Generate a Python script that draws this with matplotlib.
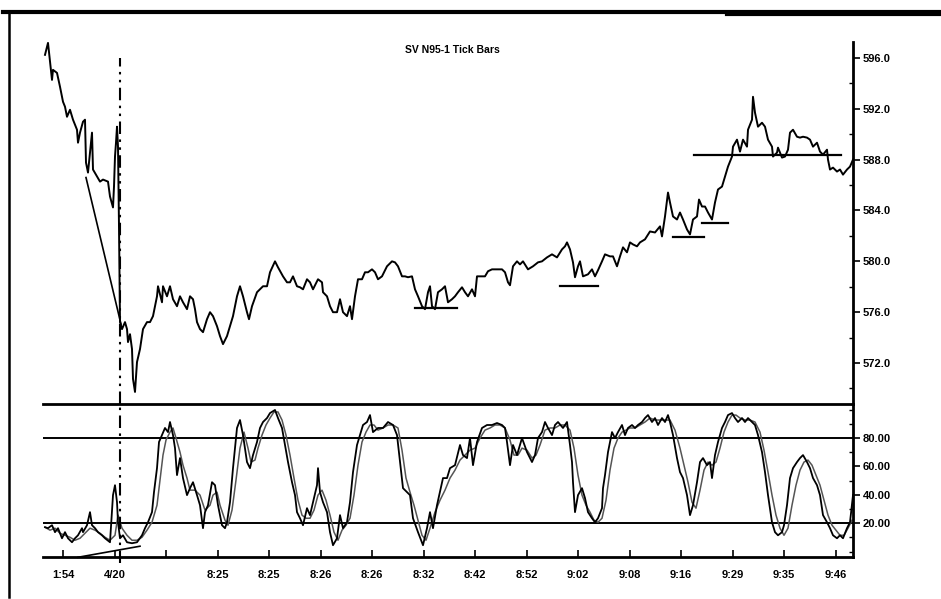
import matplotlib
matplotlib.use("Agg")
import matplotlib.pyplot as plt
from matplotlib.lines import Line2D
from matplotlib.ticker import MultipleLocator

plt.rcParams['font.family'] = ['Liberation Sans', 'DejaVu Sans']

# ---------------- data ----------------
title = "SV N95-1 Tick Bars"
x_tick_labels = ["1:54", "4/20", "", "8:25", "8:25", "8:26", "8:26", "8:32",
                 "8:42", "8:52", "9:02", "9:08", "9:16", "9:29", "9:35", "9:46"]
price_ticks = [572, 576, 580, 584, 588, 592, 596]
osc_ticks = [20, 40, 60, 80]
osc_levels = [80, 20]

price_bar = [0, 3, 7, 8, 12, 15, 17, 18, 20, 22, 25, 28, 32, 33, 35, 38, 40, 41, 43, 47,
             48, 52, 55, 58, 63, 65, 68, 69, 70, 71, 72, 73, 74, 75, 77, 80, 82, 83, 85, 87,
             88, 90, 92, 95, 98, 102, 105, 108, 112, 113, 117, 118, 122, 125, 128, 132, 135, 138, 142, 145,
             148, 150, 152, 155, 158, 162, 165, 168, 172, 175, 178, 182, 185, 188, 192, 195, 198, 202, 204, 207,
             212, 218, 222, 225, 230, 233, 238, 242, 245, 248, 252, 255, 258, 262, 265, 268, 273, 277, 278, 282,
             285, 288, 292, 295, 298, 302, 305, 307, 310, 313, 317, 320, 323, 327, 330, 333, 337, 342, 347, 350,
             353, 357, 360, 363, 367, 370, 373, 377, 380, 383, 385, 387, 390, 393, 397, 400, 403, 407, 410, 413,
             417, 420, 423, 427, 430, 432, 435, 440, 443, 447, 452, 457, 460, 463, 465, 468, 472, 475, 478, 483,
             488, 493, 497, 502, 507, 512, 517, 520, 522, 525, 528, 530, 533, 535, 538, 543, 547, 550, 553, 557,
             560, 565, 568, 572, 575, 578, 582, 585, 588, 592, 595, 600, 605, 610, 615, 617, 620, 623, 625, 628,
             632, 635, 638, 642, 645, 648, 652, 654, 657, 660, 663, 667, 670, 673, 677, 680, 683, 687, 688, 692,
             695, 698, 702, 703, 707, 708, 710, 713, 717, 720, 723, 727, 728, 732, 733, 737, 740, 743, 745, 748,
             752, 755, 758, 762, 765, 768, 772, 775, 778, 782, 783, 785, 788, 792, 795, 798, 802, 805, 808]
price = [596.24, 597.18, 594.27, 595.06, 594.82, 593.73, 592.94, 592.55, 592.16, 591.37, 591.92, 591.14, 590.35, 589.33, 590.12, 590.98, 591.14, 587.76, 586.98, 590.12,
         587.22, 586.67, 586.27, 586.43, 586.27, 585.10, 584.24, 585.88, 588.24, 589.33, 590.59, 589.02, 582.75, 575.22, 574.67, 575.22, 574.67, 573.65, 574.27, 573.10,
         570.75, 569.73, 572.08, 573.10, 574.67, 575.22, 575.22, 575.69, 577.25, 578.04, 576.78, 578.04, 577.25, 578.04, 577.02, 576.47, 577.25, 576.78, 576.24, 577.25,
         577.02, 576.24, 575.22, 574.67, 574.43, 575.45, 576.00, 575.69, 574.90, 574.12, 573.49, 574.12, 574.90, 575.69, 577.25, 578.04, 577.25, 576.00, 575.45, 576.47,
         577.57, 578.04, 578.04, 579.14, 580.00, 579.53, 578.82, 578.35, 578.35, 578.82, 578.04, 577.96, 577.80, 578.59, 578.35, 577.80, 578.59, 578.35, 577.57, 577.25,
         576.47, 576.00, 576.00, 577.02, 576.00, 575.69, 576.47, 575.45, 577.25, 578.59, 578.59, 579.14, 579.14, 579.37, 579.14, 578.59, 578.82, 579.61, 580.00, 579.92,
         579.61, 578.82, 578.82, 578.75, 578.82, 577.80, 577.25, 576.47, 576.24, 577.57, 578.04, 576.47, 576.24, 577.57, 577.80, 578.04, 576.78, 577.02, 577.25, 577.57,
         577.96, 577.57, 577.25, 577.80, 577.25, 578.82, 578.82, 578.82, 579.22, 579.37, 579.37, 579.37, 579.14, 578.35, 578.12, 579.61, 580.00, 579.76, 580.00, 579.37,
         579.61, 579.92, 580.00, 580.31, 580.55, 580.31, 580.94, 581.18, 581.49, 580.94, 579.92, 578.75, 579.61, 580.00, 578.82, 578.98, 579.37, 578.82, 579.30, 580.00,
         580.55, 580.39, 580.39, 579.61, 580.39, 581.10, 580.71, 581.49, 581.33, 581.18, 581.49, 581.73, 582.35, 582.27, 582.75, 581.96, 583.53, 585.41, 584.63, 583.53,
         583.29, 583.84, 583.29, 582.51, 582.12, 583.29, 583.53, 584.86, 584.31, 584.31, 583.84, 583.29, 584.63, 585.65, 585.88, 586.67, 587.45, 588.24, 589.02, 589.57,
         588.63, 589.57, 589.02, 590.35, 591.14, 592.94, 591.69, 590.59, 590.90, 590.59, 589.57, 589.02, 588.24, 588.55, 588.94, 588.16, 588.24, 588.78, 590.12, 590.35,
         589.80, 589.73, 589.80, 589.73, 589.57, 589.02, 589.33, 588.63, 588.39, 588.78, 588.00, 587.22, 587.37, 587.06, 587.22, 586.82, 587.22, 587.45, 588.00]

k_bar = [0, 3, 7, 10, 13, 17, 20, 23, 27, 30, 33, 37, 38, 42, 45, 47, 50, 53, 57, 60,
         65, 68, 70, 72, 73, 75, 78, 82, 87, 92, 97, 100, 103, 107, 109, 112, 114, 117, 120, 123,
         125, 128, 130, 132, 135, 138, 142, 145, 148, 152, 155, 158, 160, 163, 167, 170, 173, 177, 180, 182,
         185, 188, 192, 195, 198, 202, 205, 208, 212, 215, 218, 222, 225, 230, 233, 237, 240, 243, 247, 250,
         252, 255, 258, 262, 265, 268, 272, 273, 275, 278, 282, 285, 288, 292, 295, 298, 302, 305, 308, 312,
         315, 318, 322, 325, 328, 333, 338, 343, 348, 352, 355, 358, 365, 368, 373, 378, 382, 385, 388, 392,
         398, 402, 405, 410, 415, 418, 422, 425, 428, 432, 437, 442, 447, 452, 457, 460, 462, 465, 468, 472,
         477, 482, 487, 490, 493, 497, 500, 503, 507, 510, 513, 518, 522, 525, 527, 528, 530, 533, 537, 540,
         543, 547, 550, 553, 557, 558, 560, 563, 567, 570, 573, 577, 580, 583, 587, 590, 593, 597, 600, 603,
         607, 610, 613, 617, 620, 623, 625, 628, 632, 635, 638, 642, 645, 648, 652, 655, 658, 662, 665, 667,
         670, 673, 677, 680, 683, 687, 690, 693, 697, 700, 703, 707, 710, 713, 717, 720, 723, 727, 730, 733,
         737, 739, 742, 745, 748, 752, 755, 758, 762, 765, 768, 772, 775, 778, 782, 785, 788, 792, 795, 798,
         802, 805, 808]
k_val = [17.2, 16.5, 18.6, 13.7, 16.5, 9.4, 13.7, 9.4, 6.6, 9.4, 11.5, 16.5, 13.7, 18.6, 27.8, 18.6, 16.5, 13.7, 11.5, 9.4,
         6.6, 39.8, 46.8, 34.8, 20.7, 9.4, 11.5, 6.6, 5.9, 6.6, 11.5, 16.5, 20.7, 27.8, 41.9, 58.8, 77.2, 82.1, 87.1, 84.2,
         91.3, 82.1, 72.9, 53.9, 65.9, 51.8, 39.8, 44.7, 48.9, 39.8, 32.7, 16.5, 27.8, 32.7, 48.9, 46.8, 32.7, 18.6, 16.5, 20.7,
         34.8, 58.8, 87.1, 92.7, 82.1, 63.1, 58.8, 68.0, 77.2, 87.1, 91.3, 94.1, 97.6, 99.8, 94.1, 87.1, 75.1, 63.1, 48.9, 39.8,
         27.8, 23.5, 18.6, 30.6, 25.7, 34.8, 46.8, 58.8, 41.9, 34.8, 27.8, 13.7, 4.5, 9.4, 25.7, 16.5, 20.7, 34.8, 56.0, 75.1,
         82.1, 89.2, 91.3, 96.2, 84.2, 87.1, 87.1, 91.3, 89.2, 82.1, 63.1, 44.7, 39.8, 23.5, 13.7, 4.5, 16.5, 27.8, 16.5, 32.7,
         51.8, 51.8, 58.8, 60.9, 75.1, 68.0, 65.9, 80.0, 60.9, 77.2, 87.1, 89.2, 89.2, 90.6, 89.2, 87.1, 77.2, 60.9, 75.1, 68.0,
         80.0, 70.1, 63.1, 68.0, 80.0, 84.2, 91.3, 87.1, 82.1, 89.2, 91.3, 87.1, 91.3, 75.1, 63.1, 48.9, 27.8, 39.8, 44.7, 37.7,
         27.8, 23.5, 20.7, 23.5, 30.6, 44.7, 53.9, 70.1, 84.2, 80.0, 84.2, 89.2, 82.1, 87.1, 89.2, 87.1, 89.2, 91.3, 94.1, 96.2,
         91.3, 94.1, 89.2, 94.1, 91.3, 96.2, 91.3, 82.1, 65.9, 56.0, 51.8, 39.8, 25.7, 32.7, 48.9, 63.1, 65.9, 60.9, 63.1, 51.8,
         68.0, 77.2, 87.1, 91.3, 96.2, 97.6, 94.1, 91.3, 94.1, 91.3, 94.1, 91.3, 89.2, 82.1, 70.1, 56.0, 39.8, 20.7, 13.7, 11.5,
         13.7, 18.6, 32.7, 51.8, 58.8, 63.1, 65.9, 68.0, 63.1, 58.8, 51.8, 46.8, 39.8, 25.7, 20.7, 16.5, 11.5, 9.4, 11.5, 9.4,
         16.5, 20.7, 39.8]

d_bar = [0, 5, 10, 15, 20, 25, 30, 35, 40, 45, 50, 55, 60, 65, 70, 73, 77, 82, 87, 92,
         97, 102, 107, 112, 115, 118, 121, 125, 128, 131, 135, 138, 142, 145, 150, 155, 160, 165, 168, 172,
         175, 180, 183, 187, 191, 195, 199, 203, 206, 210, 213, 217, 221, 225, 229, 233, 237, 241, 245, 249,
         253, 257, 261, 265, 269, 273, 277, 281, 285, 289, 293, 297, 301, 305, 309, 313, 317, 321, 325, 329,
         333, 338, 343, 348, 353, 357, 361, 365, 369, 373, 377, 381, 385, 390, 395, 400, 405, 410, 415, 420,
         425, 430, 435, 440, 445, 450, 455, 460, 465, 469, 473, 477, 482, 487, 491, 495, 500, 505, 510, 515,
         520, 525, 529, 533, 537, 541, 545, 549, 553, 557, 561, 565, 569, 573, 577, 581, 585, 590, 595, 600,
         605, 610, 615, 620, 625, 630, 635, 639, 643, 647, 651, 655, 659, 663, 667, 671, 675, 679, 683, 687,
         691, 695, 700, 705, 710, 715, 719, 723, 727, 731, 735, 739, 743, 747, 751, 755, 759, 763, 767, 771,
         775, 779, 783, 787, 791, 795, 799, 803, 807]
d_val = [17.2, 15.1, 16.5, 12.9, 11.5, 10.1, 8.0, 9.4, 12.9, 16.5, 15.1, 12.9, 10.1, 8.0, 11.5, 25.7, 16.5, 11.5, 8.0, 8.0,
         10.1, 15.1, 20.7, 32.7, 50.4, 68.0, 78.6, 84.2, 87.1, 80.0, 70.1, 60.9, 51.8, 43.3, 43.3, 39.8, 29.2, 32.7, 39.8, 41.9,
         32.7, 22.1, 18.6, 29.2, 50.4, 72.9, 84.2, 72.9, 63.1, 64.5, 72.9, 82.1, 89.2, 94.1, 98.4, 98.4, 92.7, 82.1, 68.0, 51.8,
         36.2, 25.7, 23.5, 23.5, 29.2, 39.8, 43.3, 36.2, 25.7, 13.7, 8.0, 15.1, 18.6, 23.5, 39.8, 60.9, 77.2, 84.2, 89.2, 89.2,
         85.6, 87.1, 89.2, 89.2, 87.1, 71.5, 51.8, 41.9, 32.7, 22.1, 11.5, 8.0, 16.5, 27.8, 36.2, 43.3, 51.8, 57.4, 64.5, 68.0,
         71.5, 72.9, 80.0, 85.6, 87.1, 89.2, 89.2, 87.1, 78.6, 68.0, 68.0, 72.9, 71.5, 65.9, 68.0, 75.1, 85.6, 87.1, 87.1, 89.2,
         89.2, 85.6, 72.9, 53.9, 39.8, 32.7, 27.8, 22.1, 20.7, 23.5, 36.2, 57.4, 72.9, 80.0, 84.2, 85.6, 87.1, 87.1, 89.2, 91.3,
         94.1, 92.7, 92.7, 92.7, 92.7, 85.6, 72.9, 60.9, 48.9, 34.8, 30.6, 43.3, 57.4, 63.1, 60.9, 63.1, 72.9, 84.2, 91.3, 96.2,
         96.2, 94.1, 92.7, 92.7, 91.3, 84.2, 71.5, 56.0, 39.8, 25.7, 16.5, 11.5, 16.5, 32.7, 46.8, 57.4, 63.1, 64.5, 60.9, 53.9,
         46.8, 36.2, 25.7, 18.6, 15.1, 11.5, 11.5, 16.5, 22.1]

# horizontal support / resistance marks on the price panel: (price, start bar, end bar)
support_price = [576.31, 578.04, 581.88, 582.98, 588.39]
support_start = [370, 515, 628, 657, 649]
support_end = [412, 553, 659, 683, 796]
# drawn trend lines
price_trend_bar = [41, 76]
price_trend_val = [586.59, 575.06]
osc_trend_bar = [33, 95]
osc_trend_val = [-4.0, 3.8]
session_break_bar = 75

# ---------------- layout ----------------
W, H = 941, 599
fig = plt.figure(figsize=(W / 100, H / 100), dpi=100)


def fx(px):
    return px / W


def fy(py):
    return 1 - py / H


left, right = fx(43), fx(853)
ax1 = fig.add_axes([left, fy(404), right - left, fy(42) - fy(404)])
ax2 = fig.add_axes([left, fy(557), right - left, fy(404) - fy(557)], sharex=ax1)

XMIN, XMAX = -2, 808
ax1.set_xlim(XMIN, XMAX)
ax1.set_ylim(568.78, 597.25)
ax2.set_ylim(-3.8, 104.0)

# price panel
ax1.plot(price_bar, price, color='black', lw=1.4, solid_joinstyle='round')
ax1.plot(price_trend_bar, price_trend_val, color='black', lw=1.2)
for p, s, e in zip(support_price, support_start, support_end):
    ax1.plot([s, e], [p, p], color='black', lw=1.6)

# oscillator panel
for lv in osc_levels:
    ax2.axhline(lv, color='black', lw=1.4)
ax2.plot(d_bar, d_val, color='#555555', lw=1.1)
ax2.plot(k_bar, k_val, color='black', lw=1.3)
ax2.plot(osc_trend_bar, osc_trend_val, color='black', lw=1.2, clip_on=False)

# session divider (dash-dot-dot) across both panels
dash = (0, (6, 2.6, 1.2, 2.6, 1.2, 2.6))
ax1.axvline(session_break_bar, ymin=0, ymax=(404 - 58) / (404 - 42), color='black',
            lw=1.5, linestyle=dash, clip_on=False)
ax2.axvline(session_break_bar, ymin=(557 - 563) / (557 - 404), ymax=1, color='black',
            lw=1.5, linestyle=dash, clip_on=False)

# spines
for ax in (ax1, ax2):
    ax.spines['left'].set_visible(False)
    ax.spines['top'].set_visible(False)
    ax.spines['right'].set_linewidth(2)
    ax.spines['bottom'].set_linewidth(2)
    ax.yaxis.tick_right()
    ax.patch.set_visible(False)
ax1.set_zorder(2)

ax1.set_yticks(price_ticks, labels=[f"{v:.1f}" for v in price_ticks],
               fontweight='bold', fontsize=8)
ax1.yaxis.set_minor_locator(MultipleLocator(2))
ax1.tick_params(axis='y', which='major', direction='out', length=5, width=1.2, pad=2)
ax1.tick_params(axis='y', which='minor', direction='in', length=3, width=1)
ax1.tick_params(axis='x', which='both', bottom=False, labelbottom=False)

ax2.set_yticks(osc_ticks, labels=[f"{v:.2f}" for v in osc_ticks],
               fontweight='bold', fontsize=8)
ax2.yaxis.set_minor_locator(MultipleLocator(10))
ax2.tick_params(axis='y', which='major', direction='out', length=5, width=1.2, pad=2)
ax2.tick_params(axis='y', which='minor', direction='in', length=3, width=1)

tick_pos = [18 + 51.5 * i for i in range(len(x_tick_labels))]
ax2.set_xticks(tick_pos, labels=x_tick_labels, fontweight='bold', fontsize=8)
ax2.tick_params(axis='x', direction='in', length=5, width=1.2, pad=9)

fig.text(fx(452), fy(50), title, ha='center', va='center', fontsize=7.5,
         fontweight='bold')

# scanned page borders
fig.add_artist(Line2D([fx(3), fx(941)], [fy(12), fy(12)], color='black', lw=3))
fig.add_artist(Line2D([fx(727), fx(941)], [fy(14), fy(14)], color='black', lw=3))
fig.add_artist(Line2D([fx(9), fx(9)], [fy(13), fy(597)], color='black', lw=1.8))

fig.savefig("out.png", dpi=100, facecolor='white')
